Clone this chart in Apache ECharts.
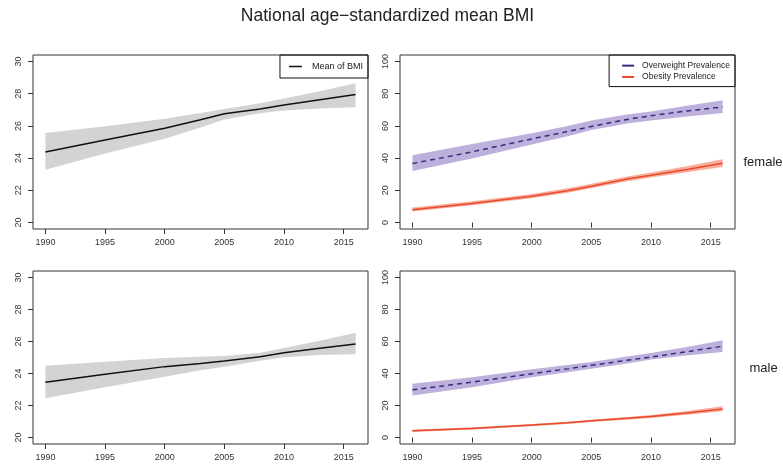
<!DOCTYPE html>
<html>
<head>
<meta charset="utf-8">
<title>National age-standardized mean BMI</title>
<script src="https://cdn.jsdelivr.net/npm/echarts@6/dist/echarts.min.js"></script>
<style>
    html, body { margin: 0; padding: 0; background: #fff; }
    #main { width: 783px; height: 468px; }
</style>
</head>
<body>
<div id="main"></div>
<script>

var years = [1990, 1995, 2000, 2003, 2005, 2008, 2010, 2013, 2016];
var yearTicks = [1990, 1995, 2000, 2005, 2010, 2015];
var bmiTicks = [20, 22, 24, 26, 28, 30];
var prevTicks = [0, 20, 40, 60, 80, 100];

// female
var femaleBmi = [24.38, 25.12, 25.85, 26.38, 26.75, 27.05, 27.30, 27.62, 27.95];
var femaleBmiHi = [25.56, 25.98, 26.45, 26.80, 27.05, 27.40, 27.70, 28.15, 28.65];
var femaleBmiLo = [23.27, 24.28, 25.20, 25.90, 26.40, 26.78, 26.95, 27.08, 27.15];
var femaleOver = [36.6, 43.9, 51.9, 56.5, 59.6, 64.0, 66.3, 69.3, 71.8];
var femaleOverHi = [41.8, 48.7, 55.4, 60.0, 63.4, 67.0, 69.0, 72.5, 75.9];
var femaleOverLo = [32.0, 39.8, 48.5, 53.5, 57.5, 61.5, 63.4, 65.8, 68.0];
var femaleObese = [8.0, 11.9, 16.3, 19.8, 22.6, 27.0, 29.3, 33.0, 36.8];
var femaleObeseHi = [9.4, 13.2, 17.8, 21.3, 24.1, 28.6, 31.0, 35.0, 39.3];
var femaleObeseLo = [6.9, 10.7, 15.1, 18.5, 21.3, 25.6, 27.9, 31.2, 34.5];

// male
var maleBmi = [23.45, 23.95, 24.43, 24.62, 24.78, 25.05, 25.30, 25.58, 25.85];
var maleBmiHi = [24.49, 24.74, 24.97, 25.05, 25.10, 25.30, 25.60, 26.05, 26.55];
var maleBmiLo = [22.45, 23.14, 23.80, 24.20, 24.43, 24.80, 25.02, 25.15, 25.20];
var maleOver = [29.8, 34.6, 39.9, 42.9, 45.1, 48.3, 50.3, 53.6, 57.0];
var maleOverHi = [33.6, 37.7, 42.6, 45.3, 47.2, 50.6, 52.8, 56.6, 60.8];
var maleOverLo = [26.2, 31.4, 37.7, 40.8, 43.0, 46.3, 48.7, 51.2, 53.5];
var maleObese = [4.2, 5.7, 7.8, 9.2, 10.5, 12.0, 13.2, 15.4, 17.9];
var maleObeseHi = [4.9, 6.4, 8.5, 9.9, 11.2, 12.8, 14.1, 16.6, 19.5];
var maleObeseLo = [3.5, 5.0, 7.1, 8.5, 9.8, 11.2, 12.3, 14.3, 16.4];

var FONT = '"Liberation Sans", Arial, Helvetica, sans-serif';
var grey = '#d3d3d3';
var purple = '#3c2a7c';
var purpleBand = '#bdb0dc';
var red = '#ea4a2c';
var redBand = '#f7ae9c';

var pairs = function (vals) {
    return vals.map(function (v, i) { return [years[i], v]; });
};

var plain = function (v) {
    return String(v);
};

// confidence band as one polygon, drawn through the axis scales
var band = function (idx, lo, hi, color) {
    return {
        type: 'custom',
        xAxisIndex: idx,
        yAxisIndex: idx,
        silent: true,
        z: 1,
        data: pairs(lo),
        renderItem: function (params, api) {
            if (params.dataIndex !== 0) {
                return null;
            }
            var pts = [];
            for (var i = 0; i < years.length; i++) {
                pts.push(api.coord([years[i], hi[i]]));
            }
            for (var j = years.length - 1; j >= 0; j--) {
                pts.push(api.coord([years[j], lo[j]]));
            }
            return {
                type: 'polygon',
                shape: { points: pts },
                style: { fill: color, stroke: null }
            };
        }
    };
};

var line = function (idx, name, vals, color, dashed) {
    return {
        type: 'line',
        name: name,
        xAxisIndex: idx,
        yAxisIndex: idx,
        data: pairs(vals),
        symbol: 'none',
        z: 3,
        itemStyle: { color: color },
        lineStyle: { color: color, width: 1.5, type: dashed ? [5, 4] : 'solid' }
    };
};

var xAxis = function (idx) {
    return {
        type: 'value',
        gridIndex: idx,
        min: 1988.96,
        max: 2017.04,
        axisLine: { show: false },
        splitLine: { show: false },
        axisTick: { show: true, length: 5, customValues: yearTicks, lineStyle: { color: '#333' } },
        axisLabel: { customValues: yearTicks, formatter: plain, margin: 9, fontSize: 9, color: '#333', fontFamily: FONT }
    };
};

var yAxis = function (idx, min, max, ticks) {
    return {
        type: 'value',
        gridIndex: idx,
        min: min,
        max: max,
        axisLine: { show: false },
        splitLine: { show: false },
        axisTick: { show: true, length: 5, customValues: ticks, lineStyle: { color: '#333' } },
        axisLabel: { customValues: ticks, formatter: plain, rotate: 90, margin: 10, fontSize: 9, color: '#333', fontFamily: FONT }
    };
};

var gridBox = { show: true, borderColor: '#333', borderWidth: 1, backgroundColor: 'transparent' };

var myChart = echarts.init(document.getElementById('main'));

var option = {
    animation: false,
    backgroundColor: '#fff',
    grid: [
        Object.assign({ left: 33, top: 55, width: 335, height: 174 }, gridBox),
        Object.assign({ left: 400, top: 55, width: 335, height: 174 }, gridBox),
        Object.assign({ left: 33, top: 271, width: 335, height: 173 }, gridBox),
        Object.assign({ left: 400, top: 271, width: 335, height: 173 }, gridBox)
    ],
    xAxis: [xAxis(0), xAxis(1), xAxis(2), xAxis(3)],
    yAxis: [
        yAxis(0, 19.6, 30.4, bmiTicks),
        yAxis(1, -4, 104, prevTicks),
        yAxis(2, 19.6, 30.4, bmiTicks),
        yAxis(3, -4, 104, prevTicks)
    ],
    legend: [
        {
            data: ['Mean of BMI'],
            orient: 'vertical',
            right: 415,
            top: 55,
            icon: 'rect',
            itemWidth: 13,
            itemHeight: 1.5,
            itemStyle: { borderWidth: 0 },
            padding: [6, 5, 6, 9],
            borderColor: '#111',
            borderWidth: 1,
            selectedMode: false,
            textStyle: { fontSize: 9, lineHeight: 11, color: '#222', fontFamily: FONT, padding: [0, 0, 0, 5] }
        },
        {
            data: ['Overweight Prevalence', 'Obesity Prevalence'],
            orient: 'vertical',
            right: 48,
            top: 55,
            icon: 'rect',
            itemWidth: 12,
            itemHeight: 2,
            itemGap: 0,
            itemStyle: { borderWidth: 0 },
            padding: [5, 5, 4, 13],
            borderColor: '#111',
            borderWidth: 1,
            selectedMode: false,
            textStyle: { fontSize: 8.5, lineHeight: 11.3, color: '#222', fontFamily: FONT, padding: [0, 0, 0, 3] }
        }
    ],
    graphic: [
        {
            type: 'text', x: 387.5, y: 15.7,
            style: { text: 'National age\u2212standardized mean BMI', fontSize: 17.5, fontFamily: FONT, fill: '#222', align: 'center', verticalAlign: 'middle' }
        },
        {
            type: 'text', x: 743.5, y: 162,
            style: { text: 'female', fontSize: 13, fontFamily: FONT, fill: '#222', align: 'left', verticalAlign: 'middle' }
        },
        {
            type: 'text', x: 749.5, y: 368,
            style: { text: 'male', fontSize: 13, fontFamily: FONT, fill: '#222', align: 'left', verticalAlign: 'middle' }
        }
    ],
    series: [
        band(0, femaleBmiLo, femaleBmiHi, grey),
        line(0, 'Mean of BMI', femaleBmi, '#111', false),

        band(1, femaleOverLo, femaleOverHi, purpleBand),
        band(1, femaleObeseLo, femaleObeseHi, redBand),
        line(1, 'Overweight Prevalence', femaleOver, purple, true),
        line(1, 'Obesity Prevalence', femaleObese, red, false),

        band(2, maleBmiLo, maleBmiHi, grey),
        line(2, 'Mean of BMI (male)', maleBmi, '#111', false),

        band(3, maleOverLo, maleOverHi, purpleBand),
        band(3, maleObeseLo, maleObeseHi, redBand),
        line(3, 'Overweight Prevalence (male)', maleOver, purple, true),
        line(3, 'Obesity Prevalence (male)', maleObese, red, false)
    ]
};

myChart.setOption(option);

</script>
</body>
</html>
